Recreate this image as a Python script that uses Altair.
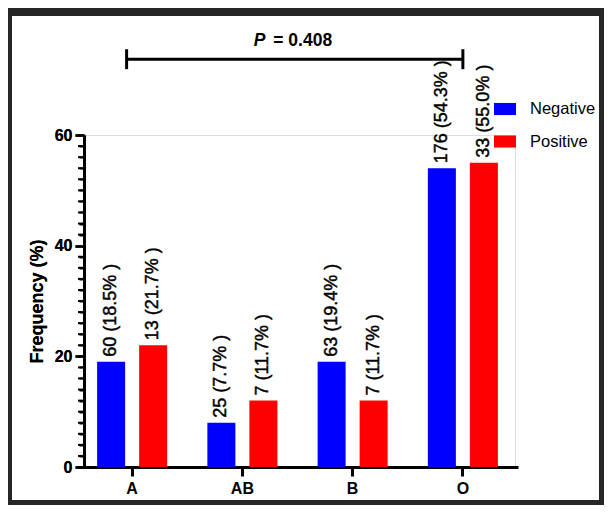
import altair as alt
import pandas as pd

# ---- data ----
groups = ["A", "AB", "B", "O"]
statuses = ["Negative", "Positive"]
neg_freq = [19, 8, 19, 54]
pos_freq = [22, 12, 12, 55]
neg_labels = ["60 (18.5% )", "25 (7.7% )", "63 (19.4% )", "176 (54.3% )"]
pos_labels = ["13 (21.7% )", "7 (11.7% )", "7 (11.7% )", "33 (55.0% )"]
colors = ["#0000FF", "#FF0000"]
y_major = [0, 20, 40, 60]
y_minor = [2, 4, 6, 8, 10, 12, 14, 16, 18, 22, 24, 26, 28, 30, 32, 34, 36, 38,
           42, 44, 46, 48, 50, 52, 54, 56, 58]
bracket_from, bracket_to = "A", "O"
bracket_y = 73.7
cap_low, cap_high = 71.9, 75.5
p_letter = "P"
p_rest = "= 0.408"
p_text_y = 76.0

FONT = "Liberation Sans"
INK = "#000000"
FRAME = "#262626"

rows = []
for g, nf, pf, nl, pl in zip(groups, neg_freq, pos_freq, neg_labels, pos_labels):
    rows.append({"group": g, "status": statuses[0], "freq": nf, "label": nl})
    rows.append({"group": g, "status": statuses[1], "freq": pf, "label": pl})
df = pd.DataFrame(rows)

xscale = alt.Scale(domain=groups, range=[-7, 434], paddingInner=0, paddingOuter=0)
xaxis = alt.Axis(title=None, labelAngle=0, labelFont=FONT, labelFontSize=16,
                 labelFontWeight="bold", labelColor=INK, tickSize=9, tickWidth=3,
                 tickColor=INK, domainColor=INK, domainWidth=3, labelPadding=4,
                 grid=False)
yscale = alt.Scale(domain=[0, 60], nice=False, zero=True)
yaxis = alt.Axis(values=y_major, orient="left", title="Frequency (%)", titleFont=FONT,
                 titleFontSize=18, titleFontWeight="bold", titleColor=INK,
                 titlePadding=8, labelFont=FONT, labelFontSize=16,
                 labelFontWeight="bold", labelColor=INK, labelPadding=3,
                 tickSize=9, tickWidth=2.5, tickColor=INK, domainColor=INK,
                 domainWidth=3, grid=False)
minor_axis = alt.Axis(values=y_minor, orient="left", labels=False, domain=False,
                      title=None, grid=False, tickSize=5, tickWidth=2, tickColor=INK)
xoff = alt.XOffset("status:N", sort=statuses,
                   scale=alt.Scale(domain=statuses, paddingInner=1/3, paddingOuter=0.479))

base = alt.Chart(df)
bars = base.mark_bar().encode(
    x=alt.X("group:N", sort=groups, scale=xscale, axis=xaxis),
    xOffset=xoff,
    y=alt.Y("freq:Q", scale=yscale, axis=yaxis),
    color=alt.Color("status:N", sort=statuses,
                    scale=alt.Scale(domain=statuses, range=colors),
                    legend=alt.Legend(title=None, orient="none", legendX=410, legendY=-37,
                                      symbolType="M-1,-0.55H1V0.55H-1Z", symbolSize=484,
                                      symbolStrokeWidth=0, labelFont=FONT, labelFontSize=16.5,
                                      labelColor=INK, labelOffset=14, rowPadding=12.5,
                                      padding=0)),
)
labels = base.mark_text(angle=270, align="left", baseline="middle", dx=5,
                        font=FONT, fontSize=18, color=INK, stroke=INK,
                        strokeWidth=0.45).encode(
    x=alt.X("group:N", sort=groups),
    xOffset=xoff,
    y=alt.Y("freq:Q", axis=yaxis),
    text="label:N",
)

minor = alt.Chart(pd.DataFrame({"v": y_minor})).mark_tick(
    orient="horizontal", color=INK, size=6, thickness=2, opacity=1).encode(
    y=alt.Y("v:Q", axis=minor_axis), x=alt.value(-3))

br = pd.DataFrame({"group": [bracket_from], "group_end": [bracket_to], "y": [bracket_y]})
bracket = alt.Chart(br).mark_rule(color=INK, strokeWidth=3).encode(
    x=alt.X("group:N", bandPosition=0.45), x2="group_end:N", y=alt.Y("y:Q", axis=None))
caps_df = pd.DataFrame({"group": [bracket_from, bracket_to], "lo": [cap_low] * 2,
                        "hi": [cap_high] * 2})
cap_left = alt.Chart(caps_df.iloc[[0]]).mark_rule(color=INK, strokeWidth=3).encode(
    x=alt.X("group:N", bandPosition=0.45), y=alt.Y("lo:Q", axis=None), y2="hi:Q")
cap_right = alt.Chart(caps_df.iloc[[1]]).mark_rule(color=INK, strokeWidth=3).encode(
    x=alt.X("group:N"), y=alt.Y("lo:Q", axis=None), y2="hi:Q")

pt = pd.DataFrame({"group": ["AB"], "y": [p_text_y], "p": [p_letter], "rest": [p_rest]})
p_italic = alt.Chart(pt).mark_text(align="right", baseline="alphabetic", font=FONT,
                                   fontSize=17.5, fontWeight="bold", fontStyle="italic",
                                   color=INK).encode(
    x=alt.X("group:N", bandPosition=0.71), y=alt.Y("y:Q", axis=None), text="p:N")
p_bold = alt.Chart(pt).mark_text(align="left", baseline="alphabetic", font=FONT,
                                 fontSize=17.5, fontWeight="bold", color=INK).encode(
    x=alt.X("group:N", bandPosition=0.78), y=alt.Y("y:Q", axis=None), text="rest:N")

one = alt.Data(values=[{"k": 1}])
def band(x1, x2, y1, y2):
    return alt.Chart(one).mark_rect(color=FRAME).encode(
        x=alt.value(x1), x2=alt.value(x2), y=alt.value(y1), y2=alt.value(y2))

frame = [band(-76, 520, -127, -119), band(-76, -72, -127, 370),
         band(515, 520, -127, 370), band(-76, 520, 365, 370)]

chart = alt.layer(bars, labels, minor, bracket, cap_left, cap_right, p_italic, p_bold,
                  *frame).resolve_axis(y="independent").properties(
    width=431, height=332,
    padding={"left": 76, "top": 127, "right": 89, "bottom": 38},
    autosize=alt.AutoSizeParams(type="none"),
).configure_view(stroke=None).configure(background="white")

chart.save("out.html", embed_options={"renderer": "svg", "actions": False})
